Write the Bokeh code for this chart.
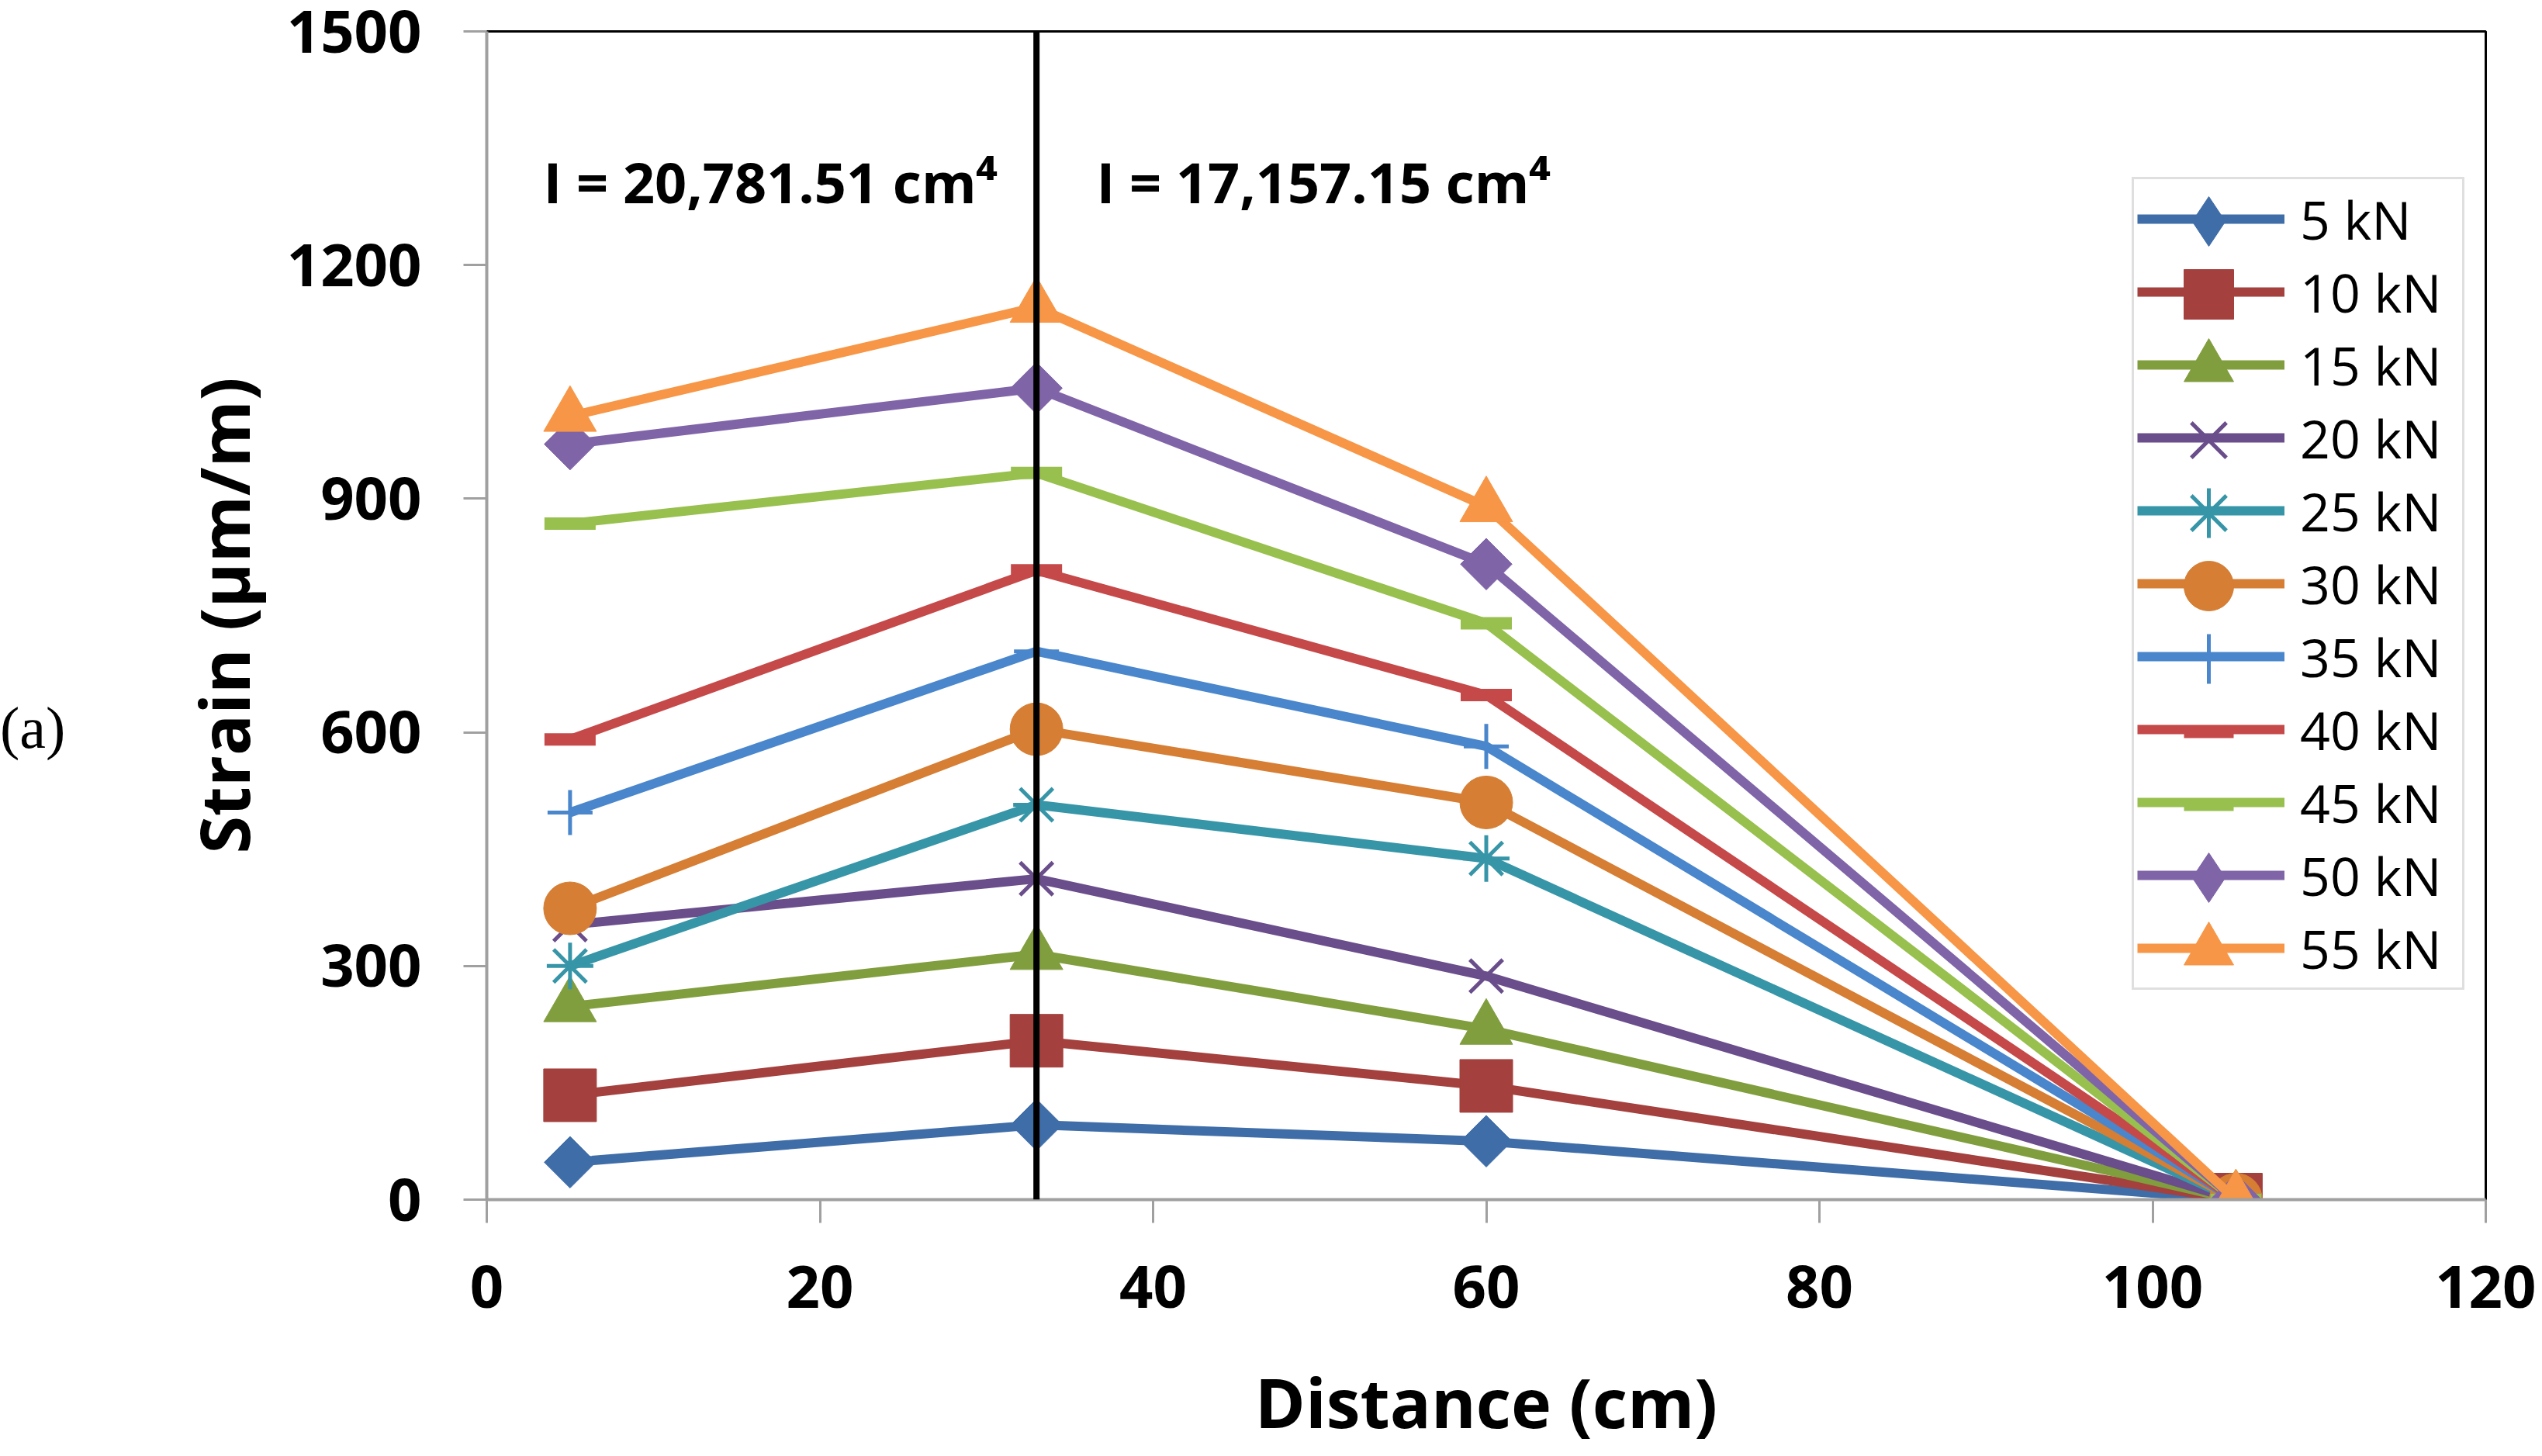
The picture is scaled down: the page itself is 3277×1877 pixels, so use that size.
from bokeh.plotting import figure
from bokeh.models import Range1d, FixedTicker, Span, Label, LegendItem, Legend, Div
from bokeh.layouts import row
from bokeh.embed import file_html
from bokeh.resources import INLINE
import math

# distance along the beam (cm)
distance = [5, 33, 60, 105]

loads = ["5 kN", "10 kN", "15 kN", "20 kN", "25 kN", "30 kN",
         "35 kN", "40 kN", "45 kN", "50 kN", "55 kN"]

# strain (um/m) at each distance
strain_5 = [48, 96, 75, 0]
strain_10 = [134, 204, 146, 0]
strain_15 = [248, 315, 219, 0]
strain_20 = [353, 412, 287, 0]
strain_25 = [300, 507, 438, 0]
strain_30 = [374, 604, 510, 0]
strain_35 = [497, 704, 582, 0]
strain_40 = [591, 808, 648, 0]
strain_45 = [868, 933, 740, 0]
strain_50 = [970, 1042, 816, 0]
strain_55 = [1006, 1146, 890, 0]

strains = [strain_5, strain_10, strain_15, strain_20, strain_25, strain_30,
           strain_35, strain_40, strain_45, strain_50, strain_55]

x_ticks = [0, 20, 40, 60, 80, 100, 120]
y_ticks = [0, 300, 600, 900, 1200, 1500]

section_x = 33
notes = ["I = 20,781.51 cm\u2074", "I = 17,157.15 cm\u2074"]
notes_x = [3.4, 36.6]
notes_y = [1307, 1307]

# colour, marker, size, angle, marker line width, filled
styles = [
    ("#3F6DA8", "diamond", 47, math.pi / 4, 1, True),
    ("#A4403D", "square", 68, 0, 1, True),
    ("#809E3E", "triangle", 68, 0, 1, True),
    ("#6A4D8B", "x", 60, 0, 5, False),
    ("#3795A8", "asterisk", 60, 0, 5, False),
    ("#D57E34", "circle", 68, 0, 1, True),
    ("#4A86CC", "cross", 58, 0, 5, False),
    ("#C6494A", "dash", 66, 0, 16, False),
    ("#98C04E", "dash", 66, 0, 16, False),
    ("#8064A8", "diamond", 47, math.pi / 4, 1, True),
    ("#F79646", "triangle", 68, 0, 1, True),
]

LEFT_W = 100
W, H = 3269 - LEFT_W, 1869
p = figure(width=W, height=H, output_backend="svg", toolbar_location=None,
           x_range=Range1d(0, 120), y_range=Range1d(0, 1500),
           min_border_left=627 - LEFT_W, min_border_right=65,
           min_border_top=40, min_border_bottom=320)
p.background_fill_color = "white"
p.border_fill_color = "white"
p.outline_line_color = "black"
p.outline_line_width = 3
p.grid.visible = False

line_items = []
marker_rends = []
for name, vals, st in zip(loads, strains, styles):
    col, mk, sz, ang, mlw, filled = st
    fill = col if filled else None
    ln = p.line(distance, vals, line_color=col, line_width=12,
                line_join="round")
    if mk == "diamond":
        # legend key uses bokeh's diamond; plot uses a rotated square
        key = p.scatter(distance, vals, marker="diamond", size=0,
                        fill_color=fill, line_color=col, line_width=mlw)
        p.scatter(distance, vals, marker="square", size=sz, angle=ang,
                  fill_color=fill, line_color=col, line_width=mlw)
    else:
        key = p.scatter(distance, vals, marker=mk, size=sz,
                        fill_color=fill, line_color=col, line_width=mlw)
    line_items.append(LegendItem(label=name, renderers=[ln]))
    marker_rends.append(key)

p.add_layout(Span(location=section_x, dimension="height",
                  line_color="black", line_width=8))

for t, tx, ty in zip(notes, notes_x, notes_y):
    p.add_layout(Label(x=tx, y=ty, text=t, text_font="Open Sans",
                       text_font_style="bold", text_font_size="72px",
                       text_color="black", text_baseline="alphabetic"))

p.xaxis.ticker = FixedTicker(ticks=x_ticks)
p.yaxis.ticker = FixedTicker(ticks=y_ticks)
for ax in (p.xaxis, p.yaxis):
    ax.axis_line_color = "#A0A0A0"
    ax.axis_line_width = 4
    ax.major_tick_line_color = "#A0A0A0"
    ax.major_tick_line_width = 3
    ax.major_tick_out = 30
    ax.major_tick_in = 0
    ax.minor_tick_line_color = None
    ax.major_label_text_font = "Open Sans"
    ax.major_label_text_font_style = "bold"
    ax.major_label_text_font_size = "76px"
    ax.major_label_text_color = "black"
    ax.axis_label_text_font = "Open Sans"
    ax.axis_label_text_font_style = "bold"
    ax.axis_label_text_font_size = "88px"
    ax.axis_label_text_color = "black"

p.xaxis.axis_label = "Distance (cm)"
p.yaxis.axis_label = "Strain (\u00b5m/m)"
p.xaxis.major_label_standoff = 55
p.xaxis.axis_label_standoff = 58
p.yaxis.major_label_standoff = 54
p.yaxis.axis_label_standoff = 19

# legend: box, lines and labels
PAD, ROW = 4, 94
LEG_X, LEG_Y = 2121, 270
lg = Legend(items=line_items, location=(LEG_X, LEG_Y))
lg.glyph_width = 190
lg.glyph_height = ROW
lg.spacing = 0
lg.padding = PAD
lg.margin = 0
lg.label_standoff = 20
lg.label_width = 205
lg.label_text_font = "Open Sans"
lg.label_text_font_size = "68px"
lg.label_text_color = "black"
lg.border_line_color = "#BFBFBF"
lg.border_line_width = 3
lg.background_fill_color = "white"
lg.background_fill_alpha = 1.0
p.add_layout(lg)

# legend keys: one transparent legend per row so the markers are full size
KEY_H = 160
top_center = LEG_Y + len(loads) * ROW + PAD - ROW // 2
for i, rend in enumerate(marker_rends):
    k = Legend(items=[LegendItem(label=" ", renderers=[rend])],
               location=(LEG_X + PAD, top_center - i * ROW - KEY_H // 2))
    k.glyph_width = 190
    k.glyph_height = KEY_H
    k.padding = 0
    k.margin = 0
    k.spacing = 0
    k.label_standoff = 0
    k.label_width = 0
    k.label_text_font_size = "1px"
    k.border_line_color = None
    k.background_fill_alpha = 0.0
    p.add_layout(k)

tag = Div(text='<div style="margin-top:900px;font-family:\'Liberation Serif\';'
               'font-size:76px;line-height:1;color:black">(a)</div>',
          width=LEFT_W, height=H, margin=0)

layout = row(tag, p)
open("out.html", "w").write(file_html(layout, INLINE))
